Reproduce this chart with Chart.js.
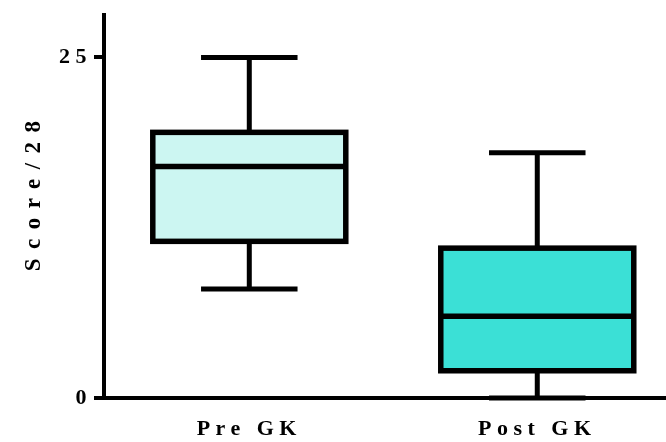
<!DOCTYPE html>
<html>
<head>
<meta charset="utf-8">
<title>Score/28 – Pre GK vs Post GK</title>
<script src="https://cdn.jsdelivr.net/npm/chart.js@4.4.1/dist/chart.umd.min.js"></script>
<style>
  html, body { margin: 0; padding: 0; background: #ffffff; overflow: hidden; }
  canvas { display: block; }
</style>
</head>
<body>
<canvas id="chart" width="666" height="442"></canvas>
<script>
// Five-number summaries for each group
const categories = ['Pre GK', 'Post GK'];
const minimums   = [8, 0];
const lowerQuart = [11.5, 2];
const medians    = [17, 6];
const upperQuart = [19.5, 11];
const maximums   = [25, 18];
const yTicks     = [0, 25];
const fillColors = ['#ccf6f2', '#3be0d6'];

const SERIF = "'Liberation Serif', 'Times New Roman', serif";
const TICK_FONT  = { family: SERIF, size: 22, weight: 'bold' };
const TITLE_FONT = { family: SERIF, size: 23, weight: 'bold' };
const LINE = 5;

// Box fills come from a floating bar dataset; outlines, medians and whiskers
// are stroked on top using the same scales.
const boxPlotLines = {
  id: 'boxPlotLines',
  afterDatasetsDraw(chart) {
    const { ctx } = chart;
    const xs = chart.scales.x, ys = chart.scales.y;
    const meta = chart.getDatasetMeta(0);
    ctx.save();
    ctx.strokeStyle = '#000';
    ctx.lineCap = 'butt';
    meta.data.forEach((bar, i) => {
      const cx = xs.getPixelForValue(i);
      const half = bar.width / 2;
      const yMin = ys.getPixelForValue(minimums[i]);
      const yQ1 = ys.getPixelForValue(lowerQuart[i]);
      const yMed = ys.getPixelForValue(medians[i]);
      const yQ3 = ys.getPixelForValue(upperQuart[i]);
      const yMax = ys.getPixelForValue(maximums[i]);
      const cap = half / 2;

      ctx.lineWidth = LINE;
      // whiskers
      ctx.beginPath();
      ctx.moveTo(cx, yQ3); ctx.lineTo(cx, yMax);
      ctx.moveTo(cx, yQ1); ctx.lineTo(cx, yMin);
      // caps
      ctx.moveTo(cx - cap, yMax); ctx.lineTo(cx + cap, yMax);
      ctx.moveTo(cx - cap, yMin); ctx.lineTo(cx + cap, yMin);
      ctx.stroke();

      // box outline and median
      ctx.lineWidth = LINE + 0.5;
      ctx.lineJoin = 'miter';
      ctx.strokeRect(cx - half, yQ3, half * 2, yQ1 - yQ3);
      ctx.beginPath();
      ctx.moveTo(cx - half, yMed); ctx.lineTo(cx + half, yMed);
      ctx.stroke();
    });
    ctx.restore();
  }
};

// Spaced-out lettering: wide for the axis title (drawn in the grid layer),
// tighter for the tick labels (drawn after the datasets).
const spacedText = {
  id: 'spacedText',
  beforeDraw(chart) { chart.ctx.letterSpacing = '9.5px'; },
  beforeDatasetsDraw(chart) { chart.ctx.letterSpacing = '5.5px'; },
  afterDraw(chart) { chart.ctx.letterSpacing = '0px'; }
};

new Chart(document.getElementById('chart'), {
  type: 'bar',
  data: {
    datasets: [{
      data: categories.map((c, i) => ({ x: i, y: [lowerQuart[i], upperQuart[i]] })),
      backgroundColor: fillColors,
      borderWidth: 0,
      barThickness: 193
    }]
  },
  plugins: [boxPlotLines, spacedText],
  options: {
    responsive: false,
    devicePixelRatio: 1,
    animation: false,
    layout: { padding: { top: 14, right: 0, left: 0, bottom: 0 } },
    plugins: { legend: { display: false }, tooltip: { enabled: false } },
    scales: {
      x: {
        type: 'linear',
        offset: false,
        min: -0.5045,
        max: 1.447,
        afterBuildTicks(scale) { scale.ticks = categories.map((c, i) => ({ value: i })); },
        afterFit(scale) { scale.height = 44; },
        ticks: {
          color: '#000',
          font: TICK_FONT,
          padding: 18,
          autoSkip: false,
          maxRotation: 0,
          z: 1,
          callback: (v) => categories[v]
        },
        grid: { display: false, drawTicks: false },
        border: { display: true, color: '#000', width: 4 }
      },
      y: {
        min: 0,
        max: 28.1,
        afterBuildTicks(scale) { scale.ticks = yTicks.map(v => ({ value: v })); },
        afterFit(scale) { scale.width = 104; },
        ticks: { color: '#000', font: TICK_FONT, padding: 2, z: 1 },
        grid: { display: true, drawOnChartArea: false, drawTicks: true, tickLength: 10, lineWidth: 4, color: '#000', z: -1 },
        border: { display: true, color: '#000', width: 4 },
        title: {
          display: true,
          // leading no-break spaces lift the title slightly above the axis centre
          text: '\u00A0\u00A0Score/28',
          color: '#000',
          font: TITLE_FONT,
          padding: { top: 20, bottom: 0 }
        }
      }
    }
  }
});
</script>
</body>
</html>
